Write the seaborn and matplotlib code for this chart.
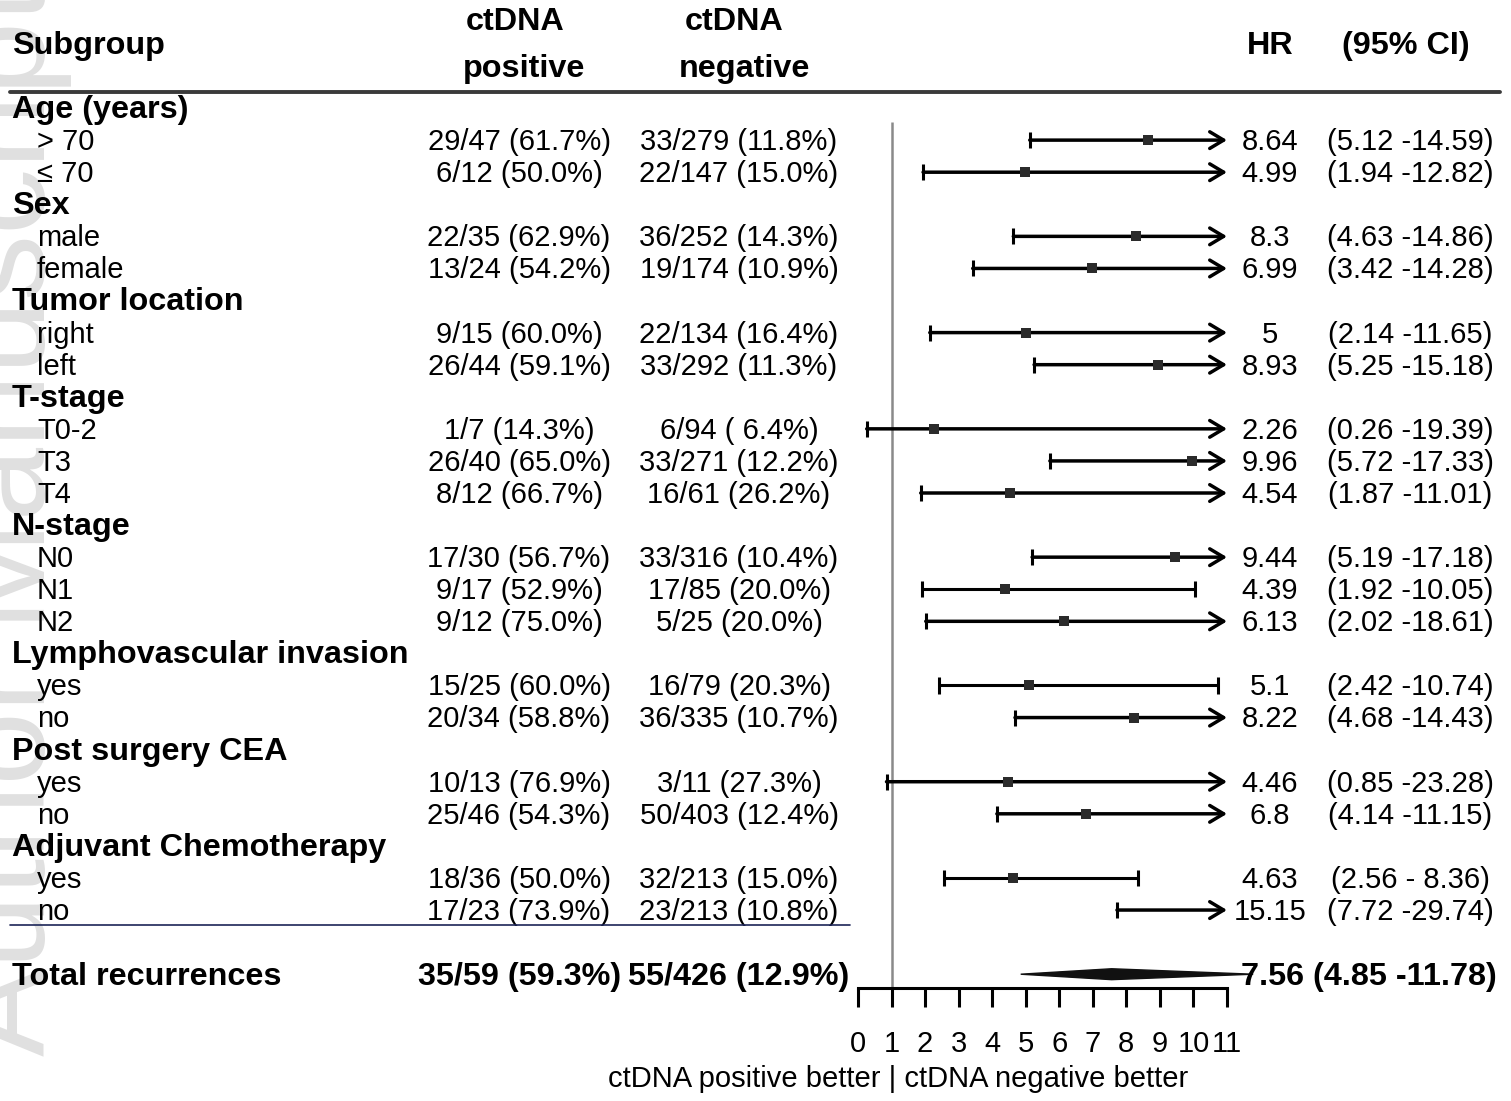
import numpy as np
import pandas as pd
import seaborn as sns
from matplotlib import pyplot as plt
from matplotlib import transforms
from matplotlib.patches import Polygon
from matplotlib.lines import Line2D

# ---- datos ----
subgroups = ["Age (years)", "> 70", "≤ 70", "Sex", "male", "female",
             "Tumor location", "right", "left", "T-stage", "T0-2", "T3", "T4",
             "N-stage", "N0", "N1", "N2", "Lymphovascular invasion", "yes", "no",
             "Post surgery CEA", "yes", "no", "Adjuvant Chemotherapy", "yes", "no"]
is_header = [True, False, False, True, False, False,
             True, False, False, True, False, False, False,
             True, False, False, False, True, False, False,
             True, False, False, True, False, False]
ctdna_pos = ["", "29/47 (61.7%)", "6/12 (50.0%)", "", "22/35 (62.9%)", "13/24 (54.2%)",
             "", "9/15 (60.0%)", "26/44 (59.1%)", "", "1/7 (14.3%)", "26/40 (65.0%)", "8/12 (66.7%)",
             "", "17/30 (56.7%)", "9/17 (52.9%)", "9/12 (75.0%)", "", "15/25 (60.0%)", "20/34 (58.8%)",
             "", "10/13 (76.9%)", "25/46 (54.3%)", "", "18/36 (50.0%)", "17/23 (73.9%)"]
ctdna_neg = ["", "33/279 (11.8%)", "22/147 (15.0%)", "", "36/252 (14.3%)", "19/174 (10.9%)",
             "", "22/134 (16.4%)", "33/292 (11.3%)", "", "6/94 ( 6.4%)", "33/271 (12.2%)", "16/61 (26.2%)",
             "", "33/316 (10.4%)", "17/85 (20.0%)", "5/25 (20.0%)", "", "16/79 (20.3%)", "36/335 (10.7%)",
             "", "3/11 (27.3%)", "50/403 (12.4%)", "", "32/213 (15.0%)", "23/213 (10.8%)"]
nan = np.nan
hr = [nan, 8.64, 4.99, nan, 8.3, 6.99, nan, 5, 8.93, nan, 2.26, 9.96, 4.54,
      nan, 9.44, 4.39, 6.13, nan, 5.1, 8.22, nan, 4.46, 6.8, nan, 4.63, 15.15]
ci_low = [nan, 5.12, 1.94, nan, 4.63, 3.42, nan, 2.14, 5.25, nan, 0.26, 5.72, 1.87,
          nan, 5.19, 1.92, 2.02, nan, 2.42, 4.68, nan, 0.85, 4.14, nan, 2.56, 7.72]
ci_high = [nan, 14.59, 12.82, nan, 14.86, 14.28, nan, 11.65, 15.18, nan, 19.39, 17.33, 11.01,
           nan, 17.18, 10.05, 18.61, nan, 10.74, 14.43, nan, 23.28, 11.15, nan, 8.36, 29.74]

total_label = "Total recurrences"
total_pos = "35/59 (59.3%)"
total_neg = "55/426 (12.9%)"
total_hr, total_low, total_high = 7.56, 4.85, 11.78

x_ticks = list(range(12))
x_label = "ctDNA positive better | ctDNA negative better"

df = pd.DataFrame({'row': np.arange(len(subgroups)), 'hr': hr,
                   'low': ci_low, 'high': ci_high})

# ---- figura ----
W, H = 1511, 1101
sns.set_theme(style='white')
plt.rcParams['font.family'] = ['Liberation Sans', 'DejaVu Sans']
plt.rcParams['text.color'] = 'black'

fig = plt.figure(figsize=(W / 100, H / 100), dpi=100)
fig.patch.set_facecolor('white')

# marca de agua (detras de todo)
fig.text(72 / W, 1 - 520 / H, 'Author Manuscript', rotation=90, fontsize=95,
         color='#e0e0e0', ha='right', va='center', zorder=-5)

ax = fig.add_axes([858 / W, 1 - 988 / H, (1227 - 858) / W, (988 - 92) / H])
ax.set_facecolor('none')
XMAX = 11
lw = 2.2

# intervalos de confianza
for _, r in df.dropna().iterrows():
    y = r['row']
    ax.vlines(r['low'], y - 0.25, y + 0.25, color='black', lw=lw)
    if r['high'] > XMAX:
        ax.annotate('', xy=(XMAX, y), xytext=(r['low'], y),
                    arrowprops=dict(arrowstyle='->,head_length=0.5,head_width=0.3',
                                    mutation_scale=20, lw=lw + 0.3, color='black',
                                    shrinkA=0, shrinkB=0))
    else:
        ax.hlines(y, r['low'], r['high'], color='black', lw=lw)
        ax.vlines(r['high'], y - 0.25, y + 0.25, color='black', lw=lw)

pts = df[df['hr'] <= XMAX]
sns.scatterplot(data=pts, x='hr', y='row', marker='s', s=50, color='#2b2b2b',
                linewidth=0, ax=ax, zorder=5, legend=False)

# linea de referencia en HR = 1
ax.vlines(1, 0.44, 27.43, color='#8a8a8a', lw=1.8, zorder=1)

# diamante del total
ty = 27.0
diamond = Polygon([(total_low, ty), (total_hr, ty - 0.17), (total_high, ty),
                   (total_hr, ty + 0.17)], closed=True, color='#111111', clip_on=False)
ax.add_patch(diamond)

ax.set_xlim(0, XMAX)
ax.set_ylim(27.43, -0.5)
ax.set_xlabel('')
ax.set_ylabel('')
ax.set_yticks([])
ax.set_xticks(x_ticks)
ax.tick_params(axis='x', bottom=True, direction='out', length=13.5, width=lw,
               pad=17, labelsize=21, colors='black')
for s in ['top', 'left', 'right']:
    ax.spines[s].set_visible(False)
ax.spines['bottom'].set_linewidth(lw)
ax.spines['bottom'].set_color('black')

# ---- columnas de texto ----
tr = transforms.blended_transform_factory(fig.transFigure, ax.transData)
fs, fsb = 21, 23.3
for i, lab in enumerate(subgroups):
    y = i + 0.06
    if is_header[i]:
        ax.text(12 / W, y, lab, transform=tr, ha='left', va='center',
                fontsize=fsb, fontweight='bold', clip_on=False)
    else:
        ax.text(37 / W, y, lab, transform=tr, ha='left', va='center',
                fontsize=fs, clip_on=False)
        ax.text(519 / W, y, ctdna_pos[i], transform=tr, ha='center', va='center',
                fontsize=fs, clip_on=False)
        ax.text(739 / W, y, ctdna_neg[i], transform=tr, ha='center', va='center',
                fontsize=fs, clip_on=False)
        ax.text(1270 / W, y, f"{hr[i]:g}", transform=tr, ha='center', va='center',
                fontsize=fs, clip_on=False)
        ax.text(1410 / W, y, f"({ci_low[i]:.2f} -{ci_high[i]:5.2f})", transform=tr,
                ha='center', va='center', fontsize=fs, clip_on=False)

ty_txt = ty + 0.08
ax.text(12 / W, ty_txt, total_label, transform=tr, ha='left', va='center',
        fontsize=fsb, fontweight='bold', clip_on=False)
ax.text(520 / W, ty_txt, total_pos, transform=tr, ha='center', va='center',
        fontsize=fsb, fontweight='bold', clip_on=False)
ax.text(739 / W, ty_txt, total_neg, transform=tr, ha='center', va='center',
        fontsize=fsb, fontweight='bold', clip_on=False)
ax.text(1241 / W, ty_txt, f"{total_hr:g} ({total_low:.2f} -{total_high:.2f})", transform=tr,
        ha='left', va='center', fontsize=fsb, fontweight='bold', clip_on=False)

# encabezados
hdr = dict(ha='center', va='center', fontsize=fsb, fontweight='bold')
fig.text(12 / W, 1 - 46 / H, 'Subgroup', ha='left', va='center', fontsize=fsb, fontweight='bold')
fig.text(515 / W, 1 - 22 / H, 'ctDNA', **hdr)
fig.text(524 / W, 1 - 69 / H, 'positive', **hdr)
fig.text(734 / W, 1 - 22 / H, 'ctDNA', **hdr)
fig.text(744 / W, 1 - 69 / H, 'negative', **hdr)
fig.text(1270 / W, 1 - 46 / H, 'HR', **hdr)
fig.text(1406 / W, 1 - 46 / H, '(95% CI)', **hdr)

# lineas separadoras
fig.add_artist(Line2D([10 / W, 1500 / W], [1 - 92 / H, 1 - 92 / H],
                      color='#3a3a3a', lw=2.8))
fig.add_artist(Line2D([10 / W, 850 / W], [1 - 925 / H, 1 - 925 / H],
                      color='#1c2558', lw=1.2))

fig.text(898 / W, 1 - 1079 / H, x_label, ha='center', va='center', fontsize=fs)

fig.savefig('out.png', dpi=100, facecolor='white')
